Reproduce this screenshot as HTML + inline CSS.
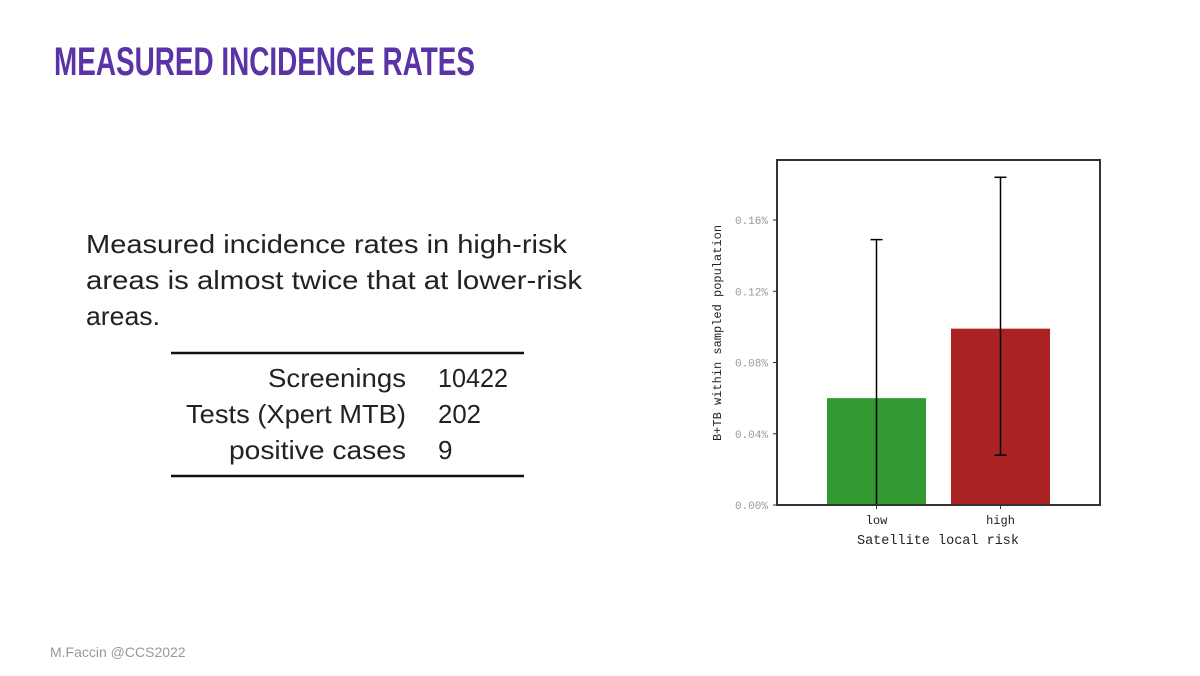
<!DOCTYPE html>
<html><head><meta charset="utf-8"><style>
html,body{margin:0;padding:0;background:#fff;width:1200px;height:676px;overflow:hidden}
svg{display:block}
</style></head><body>
<svg id="page" width="1200" height="676" viewBox="0 0 1200 676" xmlns="http://www.w3.org/2000/svg">
<rect width="1200" height="676" fill="#fff"/>
<text x="54" y="75" textLength="421" lengthAdjust="spacingAndGlyphs" font-family="Liberation Sans Narrow, Liberation Sans, sans-serif" font-weight="bold" font-size="40" fill="#5a34a6">MEASURED INCIDENCE RATES</text>
<g font-family="Liberation Sans, sans-serif" font-size="26" fill="#222">
<text x="86" y="253" textLength="481" lengthAdjust="spacingAndGlyphs">Measured incidence rates in high-risk</text>
<text x="86" y="289" textLength="496" lengthAdjust="spacingAndGlyphs">areas is almost twice that at lower-risk</text>
<text x="86" y="325" textLength="74" lengthAdjust="spacingAndGlyphs">areas.</text>
</g>
<g font-family="Liberation Sans, sans-serif" font-size="26" fill="#222">
<line x1="171" y1="353" x2="524" y2="353" stroke="#111" stroke-width="2.5"/>
<line x1="171" y1="476" x2="524" y2="476" stroke="#111" stroke-width="2.5"/>
<text x="268" y="387" textLength="138" lengthAdjust="spacingAndGlyphs">Screenings</text>
<text x="186" y="423" textLength="220" lengthAdjust="spacingAndGlyphs">Tests (Xpert MTB)</text>
<text x="229" y="459" textLength="177" lengthAdjust="spacingAndGlyphs">positive cases</text>
<text x="438" y="387" textLength="70" lengthAdjust="spacingAndGlyphs">10422</text>
<text x="438" y="423" textLength="43" lengthAdjust="spacingAndGlyphs">202</text>
<text x="438" y="459">9</text>
</g>
<text x="50" y="657" font-family="Liberation Sans, sans-serif" font-size="14" fill="#999">M.Faccin @CCS2022</text>
<g id="chart"></g>
</svg>
<script>
const categories = ["low", "high"];
const values = [0.060, 0.099];
const errLow = [0.000, 0.028];
const errHigh = [0.149, 0.184];
const yTicks = [0, 0.04, 0.08, 0.12, 0.16];
const yTickLabels = ["0.00%", "0.04%", "0.08%", "0.12%", "0.16%"];
const colors = ["#339933", "#aa2222"];

const NS = "http://www.w3.org/2000/svg";
const chart = document.getElementById("chart");
const L = 777, R = 1100, T = 160, B = 505;
const yMax = 0.1937;
function y(v){ return B - v / yMax * (B - T); }
function mk(tag, attrs, parent){ const e = document.createElementNS(NS, tag); for (const k in attrs) e.setAttribute(k, attrs[k]); (parent || chart).appendChild(e); return e; }
const bw = 99;
const firstCenter = 876.5, step = 124;
function cx(i){ return firstCenter + i * step; }

categories.forEach((c, i) => {
  const r = mk("rect", {x: cx(i) - bw/2, y: y(values[i]), width: bw, height: y(0) - y(values[i]), fill: colors[i]});
  
  
  const g = mk("g", {stroke: "#000", "stroke-width": 1.5});
  
  
  mk("line", {x1: cx(i), x2: cx(i), y1: y(errLow[i]), y2: y(errHigh[i])}, g);
  mk("line", {x1: cx(i) - 6, x2: cx(i) + 6, y1: y(errHigh[i]), y2: y(errHigh[i])}, g);
  mk("line", {x1: cx(i) - 6, x2: cx(i) + 6, y1: y(errLow[i]), y2: y(errLow[i])}, g);
  mk("line", {x1: cx(i), x2: cx(i), y1: B, y2: B + 4, stroke: "#333", "stroke-width": 1});
  const t = mk("text", {x: cx(i), y: 524, "text-anchor": "middle", "font-family": "Liberation Mono, monospace", "font-size": 12, fill: "#222"});
  t.textContent = c;
  
  
});
yTicks.forEach((v, i) => {
  mk("line", {x1: L - 4, x2: L, y1: y(v), y2: y(v), stroke: "#333", "stroke-width": 1});
  const t = mk("text", {x: 768, y: y(v) + 4, "text-anchor": "end", "font-family": "Liberation Mono, monospace", "font-size": 11, fill: "#999"});
  t.textContent = yTickLabels[i];
  
  
});
const frame = mk("rect", {x: L, y: T, width: R - L, height: B - T, fill: "none", stroke: "#333", "stroke-width": 2});


const yl = mk("text", {x: 0, y: 0, transform: "translate(721,333) rotate(-90)", "text-anchor": "middle", "font-family": "Liberation Mono, monospace", "font-size": 12, fill: "#222"});
yl.textContent = "B+TB within sampled population";


const xl = mk("text", {x: 938, y: 544, "text-anchor": "middle", "font-family": "Liberation Mono, monospace", "font-size": 13.5, fill: "#222"});
xl.textContent = "Satellite local risk";


</script>
</body></html>
